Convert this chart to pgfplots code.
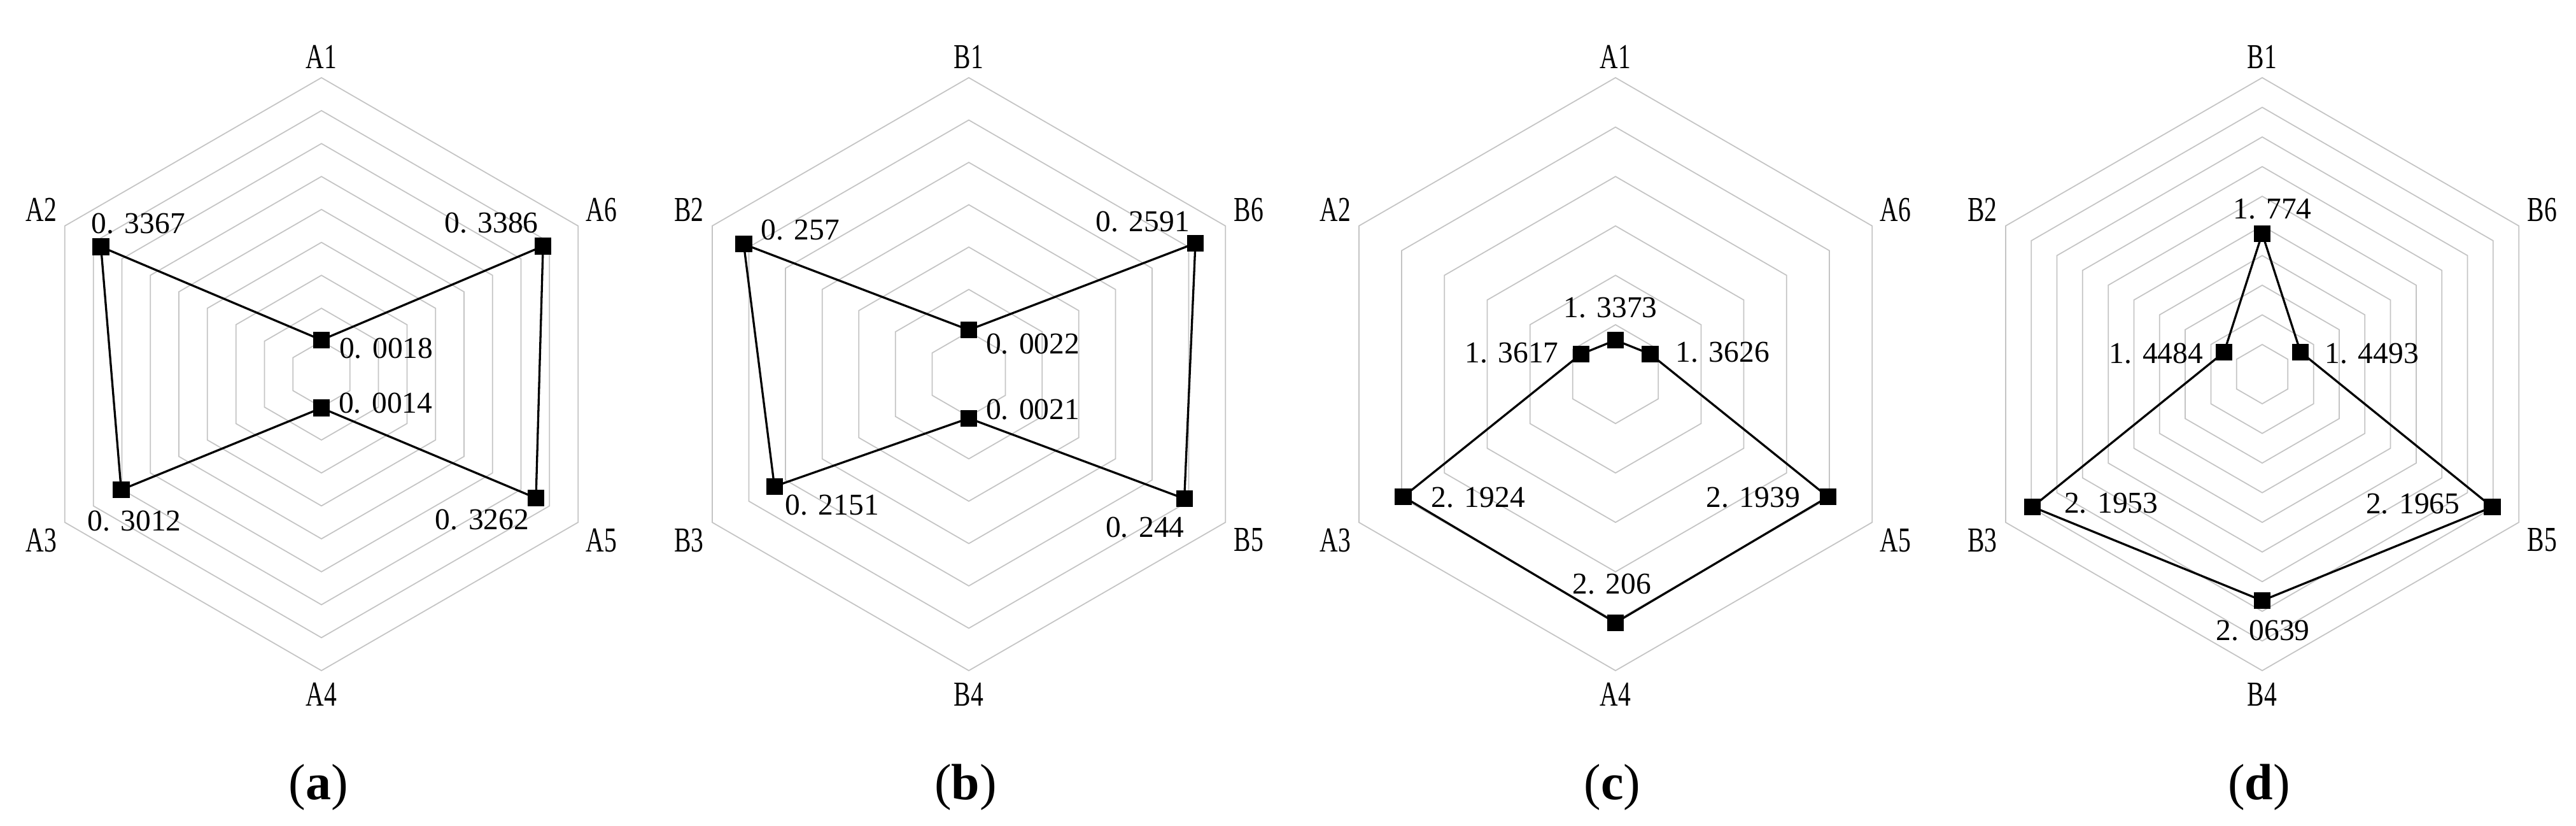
\documentclass[border=0pt]{standalone}
\usepackage{fontspec}
\setmainfont{Liberation Serif}
\usepackage{graphicx}
\usepackage{pgfplots}
\usepackage{pgfplotstable}
\pgfplotsset{compat=1.18}

\definecolor{gridc}{HTML}{C4C4C4}

% angle (deg) and value of each vertex; first row repeated to close the polygon
\pgfplotstableread{
a v
90 0.0018
150 0.3367
210 0.3012
270 0.0014
330 0.3262
30 0.3386
90 0.0018
}\tabA
\pgfplotstableread{
a v
90 0.0022
150 0.257
210 0.2151
270 0.0021
330 0.244
30 0.2591
90 0.0022
}\tabB
\pgfplotstableread{
a v
90 1.3373
150 1.3617
210 2.1924
270 2.206
330 2.1939
30 1.3626
90 1.3373
}\tabC
\pgfplotstableread{
a v
90 1.774
150 1.4484
210 2.1953
270 2.0639
330 2.1965
30 1.4493
90 1.774
}\tabD

\newcommand\valfont{\fontsize{9.5}{11}\selectfont}
\newcommand\catfont{\fontsize{11}{13}\selectfont}
\newcommand\capfont{\fontsize{16}{18}\selectfont}
\newcommand\dv[2]{#1.\hspace{0.35em}#2}
\newcommand\cl[1]{\scalebox{0.72}[1]{#1}}

% hexagonal rings
\newcommand\rings[1]{%
  \pgfplotsinvokeforeach{1,...,#1}{%
    \draw[gridc, line width=0.35pt]
      (axis cs:0,{##1/#1}) -- (axis cs:{-0.866025*##1/#1},{0.5*##1/#1})
      -- (axis cs:{-0.866025*##1/#1},{-0.5*##1/#1}) -- (axis cs:0,{-##1/#1})
      -- (axis cs:{0.866025*##1/#1},{-0.5*##1/#1}) -- (axis cs:{0.866025*##1/#1},{0.5*##1/#1})
      -- cycle;
  }%
}
% value label: angle, value, anchor, xshift, yshift, text
\newcommand\vlab[6]{%
  \node[anchor=#3, inner sep=0pt, font=\valfont, xshift=#4, yshift=#5]
    at (axis cs:{(#2-(\vmin))/\vrng*cos(#1)},{(#2-(\vmin))/\vrng*sin(#1)}) {#6};%
}
% category labels
\newcommand\cats[6]{%
  \node[inner sep=0pt, font=\catfont] at (axis cs:0,1.071) {\cl{#1}};
  \node[inner sep=0pt, font=\catfont] at (axis cs:-0.945,0.554) {\cl{#2}};
  \node[inner sep=0pt, font=\catfont] at (axis cs:-0.945,-0.560) {\cl{#3}};
  \node[inner sep=0pt, font=\catfont] at (axis cs:0,-1.08) {\cl{#4}};
  \node[inner sep=0pt, font=\catfont] at (axis cs:0.945,-0.560) {\cl{#5}};
  \node[inner sep=0pt, font=\catfont] at (axis cs:0.945,0.554) {\cl{#6}};
}

\pgfplotsset{
  radar/.style={
    scale only axis, width=232.75pt, height=232.75pt,
    xmin=-1.25, xmax=1.25, ymin=-1.25, ymax=1.25,
    hide axis, clip=false, anchor=center,
  },
  radarline/.style={
    black, line width=0.66pt, mark=square*, mark size=2.3pt,
    mark options={solid, fill=black},
  },
  /pgfplots/table/radartab/.style={
    x expr={(\thisrow{v}-(\vmin))/\vrng*cos(\thisrow{a})},
    y expr={(\thisrow{v}-(\vmin))/\vrng*sin(\thisrow{a})},
  },
}

\begin{document}
\begin{tikzpicture}
\useasboundingbox (0,0) rectangle (809.4pt,259.4pt);

% ---------- (a) ----------
\def\vmin{-0.05}\def\vrng{0.45}
\begin{axis}[radar, at={(101pt,141.9pt)}]
  \rings{9}
  \addplot[radarline] table[radartab] {\tabA};
  \cats{A1}{A2}{A3}{A4}{A5}{A6}
  \vlab{90}{0.0018}{base west}{5.4pt}{-5.8pt}{\dv{0}{0018}}
  \vlab{150}{0.3367}{base west}{-3.2pt}{4.2pt}{\dv{0}{3367}}
  \vlab{210}{0.3012}{base west}{-10.8pt}{-12.8pt}{\dv{0}{3012}}
  \vlab{270}{0.0014}{base west}{5.2pt}{-1.6pt}{\dv{0}{0014}}
  \vlab{330}{0.3262}{base east}{-2pt}{-9.8pt}{\dv{0}{3262}}
  \vlab{30}{0.3386}{base east}{-1.3pt}{4.2pt}{\dv{0}{3386}}
\end{axis}

% ---------- (b) ----------
\def\vmin{-0.05}\def\vrng{0.35}
\begin{axis}[radar, at={(304.4pt,141.9pt)}]
  \rings{7}
  \addplot[radarline] table[radartab] {\tabB};
  \cats{B1}{B2}{B3}{B4}{B5}{B6}
  \vlab{90}{0.0022}{base west}{5.2pt}{-7.4pt}{\dv{0}{0022}}
  \vlab{150}{0.257}{base west}{5.2pt}{1.4pt}{\dv{0}{257}}
  \vlab{210}{0.2151}{base west}{3.2pt}{-9pt}{\dv{0}{2151}}
  \vlab{270}{0.0021}{base west}{5.2pt}{-0.4pt}{\dv{0}{0021}}
  \vlab{330}{0.244}{base east}{0.2pt}{-12.2pt}{\dv{0}{244}}
  \vlab{30}{0.2591}{base east}{-1.6pt}{3.6pt}{\dv{0}{2591}}
\end{axis}

% ---------- (c) ----------
\def\vmin{1.2}\def\vrng{1.2}
\begin{axis}[radar, at={(507.6pt,141.9pt)}]
  \rings{6}
  \addplot[radarline] table[radartab] {\tabC};
  \cats{A1}{A2}{A3}{A4}{A5}{A6}
  \vlab{90}{1.3373}{base}{-1.6pt}{7.2pt}{\dv{1}{3373}}
  \vlab{150}{1.3617}{base east}{-6.8pt}{-2.6pt}{\dv{1}{3617}}
  \vlab{210}{2.1924}{base west}{8.6pt}{-3.3pt}{\dv{2}{1924}}
  \vlab{270}{2.206}{base}{-1.2pt}{9pt}{\dv{2}{206}}
  \vlab{330}{2.1939}{base east}{-8.6pt}{-3.3pt}{\dv{2}{1939}}
  \vlab{30}{1.3626}{base west}{7.8pt}{-2.6pt}{\dv{1}{3626}}
\end{axis}

% ---------- (d) ----------
\def\vmin{1.3}\def\vrng{1.0}
\begin{axis}[radar, at={(710.8pt,141.9pt)}]
  \rings{10}
  \addplot[radarline] table[radartab] {\tabD};
  \cats{B1}{B2}{B3}{B4}{B5}{B6}
  \vlab{90}{1.774}{base}{3.2pt}{4.6pt}{\dv{1}{774}}
  \vlab{150}{1.4484}{base east}{-6.4pt}{-3.6pt}{\dv{1}{4484}}
  \vlab{210}{2.1953}{base west}{9.8pt}{-2pt}{\dv{2}{1953}}
  \vlab{270}{2.0639}{base}{0.2pt}{-12.4pt}{\dv{2}{0639}}
  \vlab{330}{2.1965}{base east}{-10pt}{-2pt}{\dv{2}{1965}}
  \vlab{30}{1.4493}{base west}{7.5pt}{-3.6pt}{\dv{1}{4493}}
\end{axis}

% captions
\node[font=\capfont, anchor=base, inner sep=0pt] at (100pt,8.2pt) {(\textbf{a})};
\node[font=\capfont, anchor=base, inner sep=0pt] at (303.4pt,8.2pt) {(\textbf{b})};
\node[font=\capfont, anchor=base, inner sep=0pt] at (506.6pt,8.2pt) {(\textbf{c})};
\node[font=\capfont, anchor=base, inner sep=0pt] at (709.8pt,8.2pt) {(\textbf{d})};
\end{tikzpicture}
\end{document}
